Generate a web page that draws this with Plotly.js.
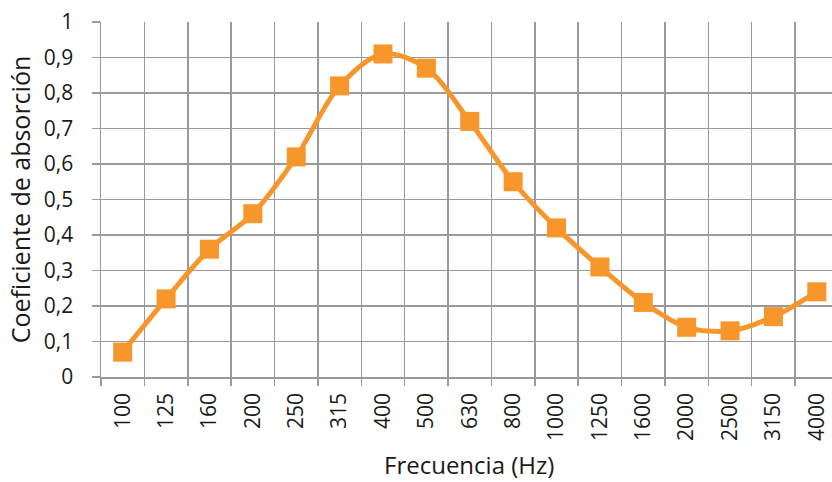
<!DOCTYPE html>
<html>
<head>
<meta charset="utf-8">
<script src="https://cdn.plot.ly/plotly-3.0.1.min.js"></script>
<style>html,body{margin:0;padding:0;overflow:hidden;background:#fff;}</style>
</head>
<body>
<div id="chart" style="width:832px;height:482px;"></div>
<script>
const frequencies = ["100","125","160","200","250","315","400","500","630","800","1000","1250","1600","2000","2500","3150","4000"];
const absorption = [0.07,0.22,0.36,0.46,0.62,0.82,0.91,0.87,0.72,0.55,0.42,0.31,0.21,0.14,0.13,0.17,0.24];
const xTitle = "Frecuencia (Hz)";
const yTitle = "Coeficiente de absorción";

const gridColor = "#9a9a9e";
const orange = "#f7962a";
const tickFont = {family: "Open Sans, Noto Sans, sans-serif", size: 21, color: "#1a1a1a"};
const xTitleFont = {family: "Open Sans, Noto Sans, sans-serif", size: 24, color: "#1a1a1a"};
const yTitleFont = {family: "Open Sans, Noto Sans, sans-serif", size: 25, color: "#1a1a1a"};

const trace = {
  x: frequencies,
  y: absorption,
  type: "scatter",
  mode: "lines+markers",
  line: {color: orange, width: 5, shape: "spline", smoothing: 0.9},
  marker: {symbol: "square", size: 19, color: orange},
  hoverinfo: "x+y"
};

const layout = {
  width: 832,
  height: 482,
  margin: {l: 101, r: 0, t: 22, b: 105},
  paper_bgcolor: "#fff",
  plot_bgcolor: "#fff",
  separators: ",.",
  font: tickFont,
  showlegend: false,
  xaxis: {
    type: "category",
    range: [-0.5, 16.35],
    tickson: "boundaries",
    ticks: "outside",
    ticklen: 7,
    tickwidth: 1.5,
    tickcolor: gridColor,
    tickangle: -90,
    ticklabelstandoff: 6,
    showgrid: true,
    gridcolor: gridColor,
    gridwidth: 1.5,
    showline: true,
    linecolor: gridColor,
    linewidth: 1.5,
    tickfont: tickFont
  },
  yaxis: {
    range: [0, 1],
    dtick: 0.1,
    tick0: 0,
    ticks: "outside",
    ticklen: 8,
    tickwidth: 1.5,
    tickcolor: gridColor,
    ticklabelstandoff: 14,
    showgrid: true,
    gridcolor: gridColor,
    gridwidth: 1.5,
    zeroline: false,
    showline: true,
    linecolor: gridColor,
    linewidth: 1.5,
    tickfont: tickFont,
    title: {text: yTitle, font: yTitleFont, standoff: 6}
  },
  annotations: [{
    text: xTitle,
    xref: "paper", yref: "paper",
    x: 0.503, y: -0.247,
    xanchor: "center", yanchor: "middle",
    showarrow: false,
    borderpad: 0,
    font: xTitleFont
  }]
};

Plotly.newPlot("chart", [trace], layout, {displayModeBar: false, staticPlot: true});
</script>
</body>
</html>
